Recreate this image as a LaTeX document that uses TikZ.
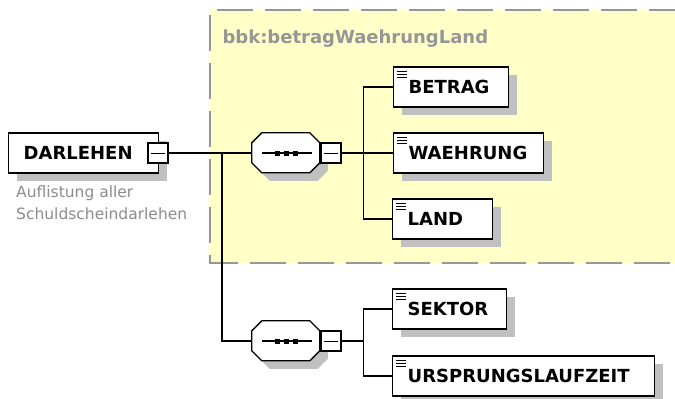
\documentclass[tikz,border=0pt]{standalone}
\usepackage{fontspec}
\setmainfont{DejaVu Sans}
\usetikzlibrary{shadows}

\definecolor{groupfill}{RGB}{255,255,200}
\definecolor{groupline}{RGB}{150,150,150}
\definecolor{shadowgray}{RGB}{192,192,192}
\definecolor{doctext}{RGB}{140,140,140}

\tikzset{
  conn/.style={line width=1.3pt, black},
  elem/.style={draw, line width=1.3pt, fill=white, anchor=west,
    minimum height=40pt, inner xsep=15pt, inner ysep=0pt, align=left,
    text width=#1, font=\bfseries\fontsize{18}{20}\selectfont,
    general shadow={fill=shadowgray, shadow xshift=8pt, shadow yshift=-8pt}},
  leaf/.style={elem=#1, path picture={
      \foreach \k in {4,7,10}
        \draw[line width=1pt] ([xshift=3pt,yshift=-\k pt]path picture bounding box.north west) -- ++(10,0);
    }},
  minusbox/.style={draw, line width=1.3pt, fill=white, minimum size=20pt,
    inner sep=0pt, path picture={
      \draw[line width=1pt] ([xshift=3pt]path picture bounding box.west) -- ([xshift=-3pt]path picture bounding box.east);
    }},
  seq/.style={minimum width=68pt, minimum height=40pt, inner sep=0pt},
}

\begin{document}
\begin{tikzpicture}[x=1pt, y=-1pt]
  \useasboundingbox[fill=white] (0,0) rectangle (675,399);

  \fill[groupfill] (210,10) rectangle (690,263);
  \draw[groupline, line width=2pt, dash pattern=on 36pt off 12pt, dash phase=-5pt]
    (690,10) -- (210,10) -- (210,263) -- (690,263);
  \node[anchor=west, text=groupline, font=\bfseries\fontsize{18}{20}\selectfont] (groupTitle) at (219,39) {bbk:betragWaehrungLand};

  \node[elem=120pt] (darlehen) at (8,153) {DARLEHEN};
  \node[minusbox] (darlehenMinus) at (158,153) {};
  \node[anchor=north west, inner sep=0pt, align=left, text=doctext,
    font=\fontsize{15.5}{22}\selectfont] (darlehenDoc) at (16,186) {Auflistung aller\\Schuldscheindarlehen};

  \node[seq] (seqA) at (286,153) {};
  \node[seq] (seqB) at (286,341) {};

  \foreach \s in {seqA,seqB} {
    \fill[shadowgray] ([xshift=18pt,yshift=-8pt]\s.north west) -- ++(48,0) -- ++(10,10)
      -- ++(0,20) -- ++(-10,10) -- ++(-48,0) -- ++(-10,-10) -- ++(0,-20) -- cycle;
    \draw[line width=1.3pt, fill=white] ([xshift=10pt]\s.north west) -- ++(48,0) -- ++(10,10)
      -- ++(0,20) -- ++(-10,10) -- ++(-48,0) -- ++(-10,-10) -- ++(0,-20) -- cycle;
    \draw[line width=1.3pt] ([xshift=-24pt]\s.center) -- ([xshift=26pt]\s.center);
    \foreach \dx in {-8.5,0,9.5}
      \fill ([xshift=\dx pt]\s.center) ++(-2.5,-2.5) rectangle ++(5,5);
  }
  \node[minusbox] (seqAMinus) at (331,153) {};
  \node[minusbox] (seqBMinus) at (331,341) {};

  \node[leaf=85pt] (betrag) at (393,87) {BETRAG};
  \node[leaf=120pt] (waehrung) at (393,153) {WAEHRUNG};
  \node[leaf=70pt] (land) at (392,219) {LAND};
  \node[leaf=84pt] (sektor) at (392,309) {SEKTOR};
  \node[leaf=232pt] (ursprung) at (392,376) {URSPRUNGSLAUFZEIT};

  \coordinate (forkTop) at (222,153);
  \draw[conn] (darlehenMinus.east) -- (seqA.west);
  \draw[conn] (forkTop) |- (seqB.west);

  \draw[conn] (seqAMinus.east) -- ++(22,0) coordinate (forkA);
  \draw[conn] (forkA) |- (betrag.west);
  \draw[conn] (forkA) -- (waehrung.west);
  \draw[conn] (forkA) |- (land.west);

  \draw[conn] (seqBMinus.east) -- ++(22,0) coordinate (forkB);
  \draw[conn] (forkB) |- (sektor.west);
  \draw[conn] (forkB) |- (ursprung.west);
\end{tikzpicture}
\end{document}
